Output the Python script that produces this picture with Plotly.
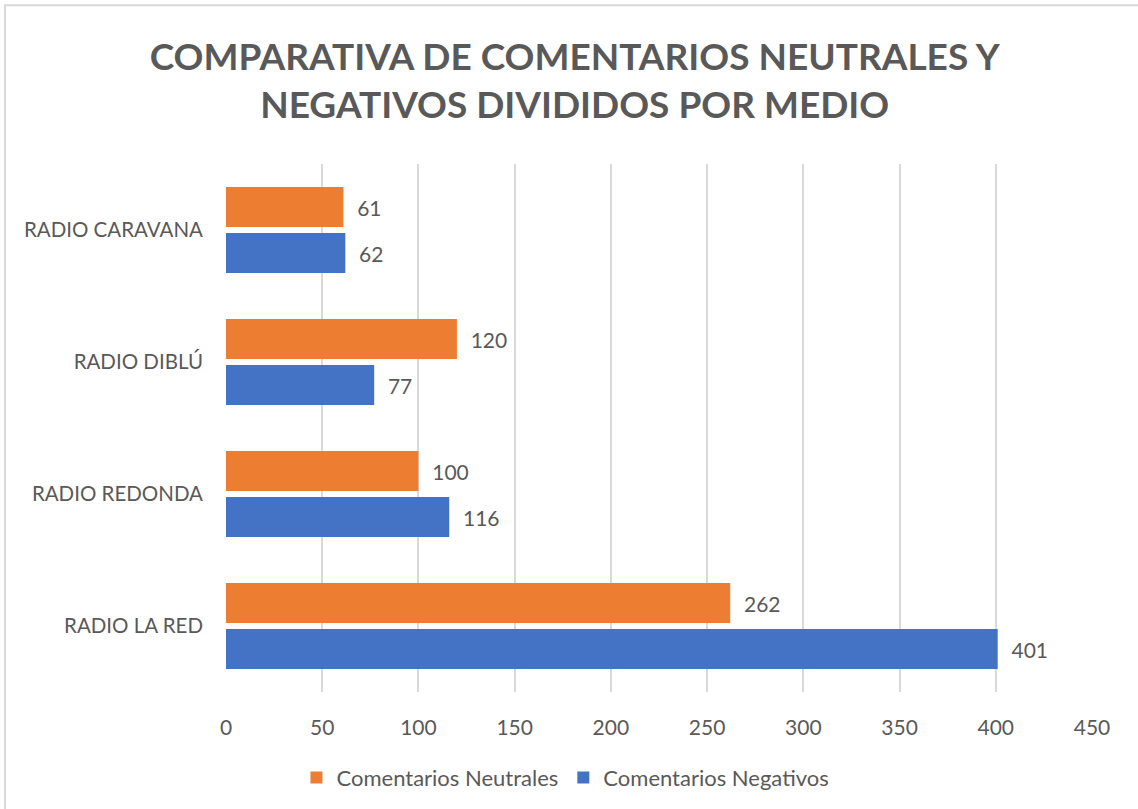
import plotly.graph_objects as go

categories = ["RADIO LA RED", "RADIO REDONDA", "RADIO DIBLÚ", "RADIO CARAVANA"]
negativos = [401, 116, 77, 62]
neutrales = [262, 100, 120, 61]
x_ticks = [0, 50, 100, 150, 200, 250, 300, 350, 400, 450]

TEXT = "#595959"
FONT = "Lato"

W, H = 1138, 809

fig = go.Figure()
fig.add_trace(go.Bar(
    y=categories, x=negativos, orientation="h", name="Comentarios Negativos",
    marker=dict(color="#4472C4", line=dict(width=0)),
    text=negativos, texttemplate="  %{x}", textposition="outside",
    textfont=dict(size=21, color=TEXT, family=FONT), cliponaxis=False,
))
fig.add_trace(go.Bar(
    y=categories, x=neutrales, orientation="h", name="Comentarios Neutrales",
    marker=dict(color="#ED7D31", line=dict(width=0)),
    text=neutrales, texttemplate="  %{x}", textposition="outside",
    textfont=dict(size=21, color=TEXT, family=FONT), cliponaxis=False,
))

fig.update_layout(
    width=W, height=H,
    margin=dict(l=226, r=46, t=164, b=116),
    paper_bgcolor="white", plot_bgcolor="white",
    barmode="group", bargap=0.303, bargroupgap=0.13,
    font=dict(family=FONT, color=TEXT, size=20),
    title=dict(
        text="<b>COMPARATIVA DE COMENTARIOS NEUTRALES Y<br>NEGATIVOS DIVIDIDOS POR MEDIO</b>",
        x=0.505, xref="container", xanchor="center",
        y=1 - 70 / H, yref="container", yanchor="top",
        font=dict(family=FONT, size=37, color=TEXT),
    ),
    xaxis=dict(
        range=[0, 450], tickvals=x_ticks, showgrid=True, gridcolor="#D9D9D9",
        gridwidth=1.5, zeroline=False, showline=False,
        tickfont=dict(size=21, color=TEXT, family=FONT), ticklabelstandoff=21,
    ),
    yaxis=dict(
        showgrid=False, zeroline=False, showline=False,
        tickfont=dict(size=20.5, color=TEXT, family=FONT), ticklabelstandoff=22,
    ),
    legend=dict(
        orientation="h", traceorder="reversed", x=0.392, xanchor="center",
        y=-0.16, yanchor="middle", font=dict(size=22, color=TEXT, family=FONT),
    ),
    showlegend=True,
    hovermode=False,
    shapes=[dict(
        type="rect", xref="paper", yref="paper",
        x0=-221 / 866, x1=1.2, y0=-0.3, y1=1 + 159 / 529,
        line=dict(color="#D9D9D9", width=2), fillcolor="rgba(0,0,0,0)",
        layer="above",
    )],
)

fig.write_html("out.html", config={"displayModeBar": False},
               post_script="document.body.style.margin='0';")
